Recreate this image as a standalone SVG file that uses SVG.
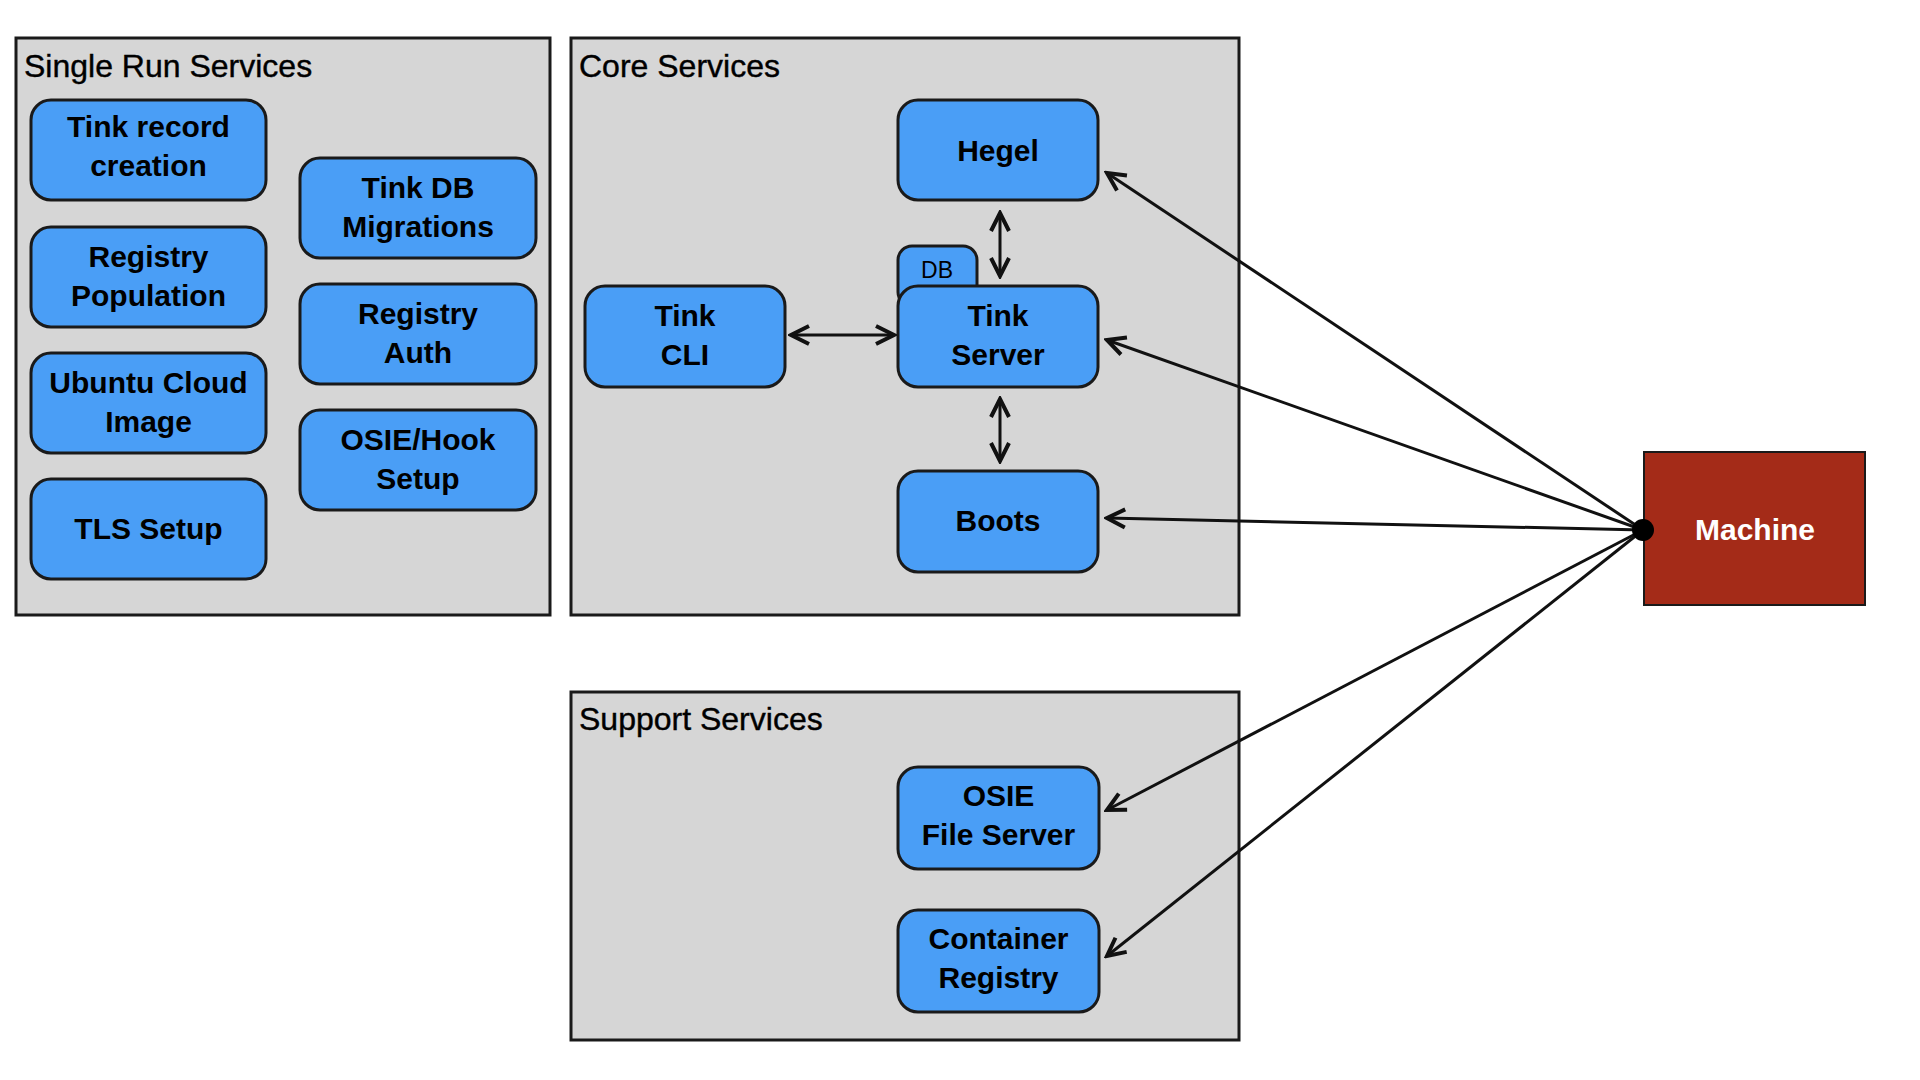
<svg xmlns="http://www.w3.org/2000/svg" width="1920" height="1080" viewBox="0 0 1920 1080">
<style>
.grp{fill:#d6d6d6;stroke:#1a1a1a;stroke-width:3}
.gt{font-family:"Liberation Sans",Arial,sans-serif;font-size:32px;fill:#000;stroke:#000;stroke-width:0.4}
.nd{fill:#4a9ef6;stroke:#1a1a1a;stroke-width:3}
.nt{font-family:"Liberation Sans",Arial,sans-serif;font-size:30px;font-weight:bold;fill:#000;text-anchor:middle}
.ln{fill:none;stroke:#111;stroke-width:3}
</style>
<defs>
<marker id="ah" viewBox="0 0 24 24" refX="21" refY="12" markerWidth="24" markerHeight="24" markerUnits="userSpaceOnUse" orient="auto-start-reverse">
<path d="M3,3 L21,12 L3,21" fill="none" stroke="#111" stroke-width="4"/>
</marker>
</defs>
<rect width="1920" height="1080" fill="#fff"/>

<g id="single-run-services">
<rect class="grp" x="16" y="38" width="534" height="577"/>
<text class="gt" x="24" y="77">Single Run Services</text>
</g>
<g id="core-services">
<rect class="grp" x="571" y="38" width="668" height="577"/>
<text class="gt" x="579" y="77">Core Services</text>
</g>
<g id="support-services">
<rect class="grp" x="571" y="692" width="668" height="348"/>
<text class="gt" x="579" y="730">Support Services</text>
</g>

<g id="tink-record-creation">
<rect class="nd" x="31" y="100" width="235" height="100" rx="20"/>
<text class="nt" x="148.5" y="137">Tink record</text>
<text class="nt" x="148.5" y="176">creation</text>
</g>
<g id="registry-population">
<rect class="nd" x="31" y="227" width="235" height="100" rx="20"/>
<text class="nt" x="148.5" y="267">Registry</text>
<text class="nt" x="148.5" y="306">Population</text>
</g>
<g id="ubuntu-cloud-image">
<rect class="nd" x="31" y="353" width="235" height="100" rx="20"/>
<text class="nt" x="148.5" y="393">Ubuntu Cloud</text>
<text class="nt" x="148.5" y="432">Image</text>
</g>
<g id="tls-setup">
<rect class="nd" x="31" y="479" width="235" height="100" rx="20"/>
<text class="nt" x="148.5" y="539">TLS Setup</text>
</g>
<g id="tink-db-migrations">
<rect class="nd" x="300" y="158" width="236" height="100" rx="20"/>
<text class="nt" x="418" y="198">Tink DB</text>
<text class="nt" x="418" y="237">Migrations</text>
</g>
<g id="registry-auth">
<rect class="nd" x="300" y="284" width="236" height="100" rx="20"/>
<text class="nt" x="418" y="324">Registry</text>
<text class="nt" x="418" y="363">Auth</text>
</g>
<g id="osie-hook-setup">
<rect class="nd" x="300" y="410" width="236" height="100" rx="20"/>
<text class="nt" x="418" y="450">OSIE/Hook</text>
<text class="nt" x="418" y="489">Setup</text>
</g>

<g id="hegel">
<rect class="nd" x="898" y="100" width="200" height="100" rx="20"/>
<text class="nt" x="998" y="161">Hegel</text>
</g>
<g id="db">
<rect class="nd" x="898" y="246" width="79" height="60" rx="14"/>
<text x="937" y="278" font-family="'Liberation Sans',Arial,sans-serif" font-size="23" text-anchor="middle" fill="#000">DB</text>
</g>
<g id="tink-server">
<rect class="nd" x="898" y="286" width="200" height="101" rx="20"/>
<text class="nt" x="998" y="326">Tink</text>
<text class="nt" x="998" y="365">Server</text>
</g>
<g id="tink-cli">
<rect class="nd" x="585" y="286" width="200" height="101" rx="20"/>
<text class="nt" x="685" y="326">Tink</text>
<text class="nt" x="685" y="365">CLI</text>
</g>
<g id="boots">
<rect class="nd" x="898" y="471" width="200" height="101" rx="20"/>
<text class="nt" x="998" y="531">Boots</text>
</g>
<g id="osie-file-server">
<rect class="nd" x="898" y="767" width="201" height="102" rx="20"/>
<text class="nt" x="998.5" y="806">OSIE</text>
<text class="nt" x="998.5" y="845">File Server</text>
</g>
<g id="container-registry">
<rect class="nd" x="898" y="910" width="201" height="102" rx="20"/>
<text class="nt" x="998.5" y="949">Container</text>
<text class="nt" x="998.5" y="988">Registry</text>
</g>
<g id="machine">
<rect x="1644" y="452" width="221" height="153" fill="#a42b18" stroke="#1a1a1a" stroke-width="2"/>
<text x="1755" y="540" font-family="'Liberation Sans',Arial,sans-serif" font-size="30" font-weight="bold" fill="#fff" text-anchor="middle">Machine</text>
</g>

<g id="connectors">
<path class="ln" d="M1000,213 L1000,276" marker-start="url(#ah)" marker-end="url(#ah)"/>
<path class="ln" d="M1000,399 L1000,461" marker-start="url(#ah)" marker-end="url(#ah)"/>
<path class="ln" d="M791,335 L894,335" marker-start="url(#ah)" marker-end="url(#ah)"/>
<path class="ln" d="M1643,530 L1107,173" marker-end="url(#ah)"/>
<path class="ln" d="M1643,530 L1107,340" marker-end="url(#ah)"/>
<path class="ln" d="M1643,530 L1107,518" marker-end="url(#ah)"/>
<path class="ln" d="M1643,530 L1107,810" marker-end="url(#ah)"/>
<path class="ln" d="M1643,530 L1107,956" marker-end="url(#ah)"/>
<circle cx="1643" cy="530" r="11" fill="#000"/>
</g>
</svg>
